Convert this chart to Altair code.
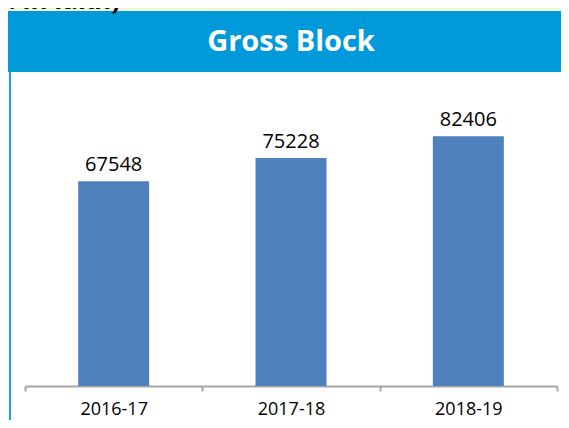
import altair as alt
import pandas as pd

years = ["2016-17", "2017-18", "2018-19"]
gross_block = [67548, 75228, 82406]
chart_title = "Gross Block"
unit_note = "(Rs. in lakh)"

df = pd.DataFrame({"year": years, "value": gross_block})
one = pd.DataFrame({"k": [0]})

FONT = "Open Sans"
W, H = 532, 303

x_enc = alt.X(
    "year:N",
    sort=years,
    scale=alt.Scale(paddingInner=0, paddingOuter=0),
    axis=alt.Axis(
        title=None,
        labelAngle=0,
        labelFont=FONT,
        labelFontSize=18,
        labelColor="#000000",
        labelPadding=9,
        domainColor="#A6A6A6",
        domainWidth=2,
        tickColor="#A6A6A6",
        tickWidth=2,
        tickSize=5,
        tickBand="extent",
        grid=False,
    ),
)
y_enc = alt.Y("value:Q", scale=alt.Scale(domain=[0, 100000]), axis=None)

bars = alt.Chart(df).mark_bar(size=71, color="#4F81BD").encode(x=x_enc, y=y_enc)
labels = alt.Chart(df).mark_text(
    dy=-10, baseline="alphabetic", fontSize=20, font=FONT, color="#000000"
).encode(x=alt.X("year:N", sort=years), y=y_enc, text=alt.Text("value:Q", format="d"))

yellow = alt.Chart(one).mark_rect(color="#F3F3CD").encode(
    x=alt.value(-17), x2=alt.value(536), y=alt.value(-75), y2=alt.value(-72)
)
header = alt.Chart(one).mark_rect(color="#0099DA").encode(
    x=alt.value(-17), x2=alt.value(536), y=alt.value(-72), y2=alt.value(-11)
)
left_line = alt.Chart(one).mark_rect(color="#1BA1E2").encode(
    x=alt.value(-16), x2=alt.value(-14), y=alt.value(-11), y2=alt.value(337)
)
title = alt.Chart(one).mark_text(
    font=FONT, fontSize=29, fontWeight="bold", color="#FFFFFF", baseline="middle", align="center"
).encode(x=alt.value(W / 2), y=alt.value(-41), text=alt.value(chart_title))
note = alt.Chart(one).mark_text(
    font=FONT, fontSize=26, fontWeight="bold", color="#000000", baseline="alphabetic", align="right"
).encode(x=alt.value(95), y=alt.value(-74), text=alt.value(unit_note))

chart = (
    alt.layer(yellow, header, left_line, bars, labels, title, note)
    .properties(
        width=W,
        height=H,
        autosize=alt.AutoSizeParams(type="none"),
        padding={"left": 17, "top": 75, "right": 4, "bottom": 34},
        background="#FFFFFF",
    )
    .configure_view(stroke=None)
)

chart.save("out.html", embed_options={"renderer": "svg", "actions": False})
